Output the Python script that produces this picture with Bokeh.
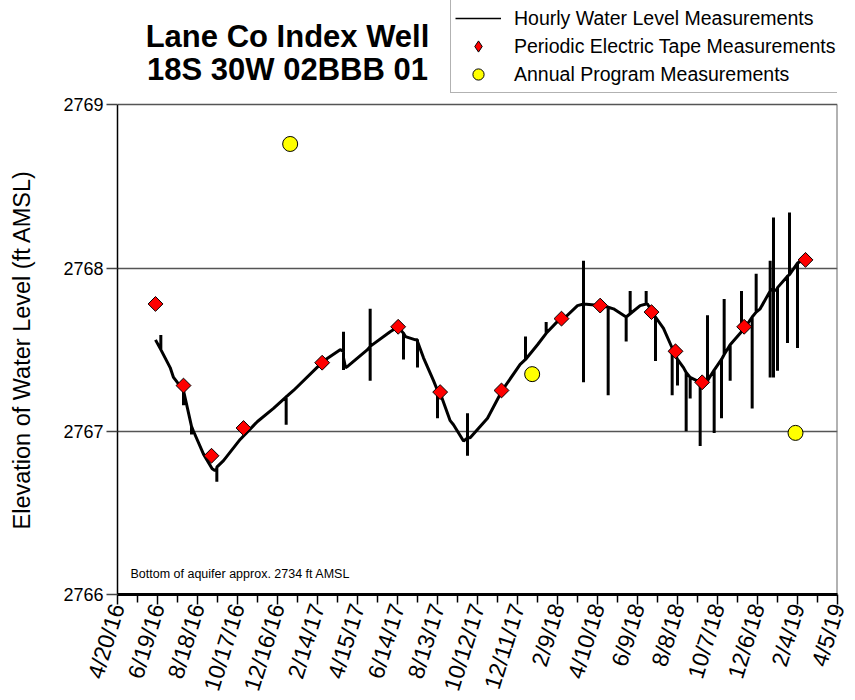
import pandas as pd
from math import pi
from bokeh.plotting import figure
from bokeh.models import (Range1d, FixedTicker, CustomJSTickFormatter, Label,
                          Legend, LegendItem)
from bokeh.embed import file_html
from bokeh.resources import INLINE

# ---------------- data ----------------
tick_dates = ["2016-04-20", "2016-06-19", "2016-08-18", "2016-10-17", "2016-12-16",
              "2017-02-14", "2017-04-15", "2017-06-14", "2017-08-13", "2017-10-12",
              "2017-12-11", "2018-02-09", "2018-04-10", "2018-06-09", "2018-08-08",
              "2018-10-07", "2018-12-06", "2019-02-04", "2019-04-05"]
y_ticks = [2766, 2767, 2768, 2769]

hourly_dates = [
    "2016-06-16", "2016-06-24", "2016-06-24", "2016-06-24", "2016-07-08", "2016-07-13",
    "2016-07-28", "2016-07-28", "2016-07-28", "2016-08-09", "2016-08-09", "2016-08-09",
    "2016-08-12", "2016-08-27", "2016-09-09", "2016-09-13", "2016-09-16", "2016-09-16",
    "2016-09-16", "2016-09-26", "2016-10-21", "2016-11-16", "2016-12-10", "2016-12-29",
    "2016-12-29", "2016-12-29", "2017-01-09", "2017-02-23", "2017-03-20", "2017-03-25",
    "2017-03-25", "2017-03-25", "2017-03-25", "2017-03-28", "2017-04-01", "2017-04-30",
    "2017-05-04", "2017-05-04", "2017-05-04", "2017-05-04", "2017-06-03", "2017-06-15",
    "2017-06-23", "2017-06-23", "2017-06-23", "2017-06-26", "2017-07-11", "2017-07-14",
    "2017-07-14", "2017-07-14", "2017-07-23", "2017-08-07", "2017-08-13", "2017-08-13",
    "2017-08-13", "2017-08-17", "2017-09-01", "2017-09-06", "2017-09-21", "2017-09-27",
    "2017-09-27", "2017-09-27", "2017-09-27", "2017-10-01", "2017-10-27", "2017-11-18",
    "2017-12-15", "2017-12-23", "2017-12-23", "2017-12-23", "2018-01-10", "2018-01-23",
    "2018-01-23", "2018-01-23", "2018-02-13", "2018-02-16", "2018-03-11", "2018-03-20",
    "2018-03-20", "2018-03-20", "2018-03-20", "2018-04-14", "2018-04-26", "2018-04-26",
    "2018-04-26", "2018-05-04", "2018-05-23", "2018-05-23", "2018-05-23", "2018-05-29",
    "2018-05-29", "2018-05-29", "2018-06-13", "2018-06-22", "2018-06-22", "2018-06-22",
    "2018-06-24", "2018-07-01", "2018-07-06", "2018-07-06", "2018-07-06", "2018-07-18",
    "2018-07-31", "2018-07-31", "2018-07-31", "2018-08-02", "2018-08-08", "2018-08-08",
    "2018-08-08", "2018-08-17", "2018-08-21", "2018-08-21", "2018-08-21", "2018-08-27",
    "2018-08-27", "2018-08-27", "2018-09-11", "2018-09-11", "2018-09-11", "2018-09-22",
    "2018-09-22", "2018-09-22", "2018-10-02", "2018-10-02", "2018-10-02", "2018-10-13",
    "2018-10-13", "2018-10-13", "2018-10-17", "2018-10-17", "2018-10-17", "2018-10-26",
    "2018-10-26", "2018-10-26", "2018-11-12", "2018-11-12", "2018-11-12", "2018-11-18",
    "2018-11-28", "2018-11-28", "2018-11-28", "2018-12-04", "2018-12-04", "2018-12-04",
    "2018-12-10", "2018-12-25", "2018-12-25", "2018-12-25", "2018-12-25", "2018-12-30",
    "2018-12-30", "2018-12-30", "2018-12-30", "2019-01-05", "2019-01-05", "2019-01-05",
    "2019-01-20", "2019-01-20", "2019-01-20", "2019-01-23", "2019-01-23", "2019-01-23",
    "2019-02-04", "2019-02-04", "2019-02-04", "2019-02-16"]
hourly_levels = [
    2767.56, 2767.50, 2767.59, 2767.50, 2767.39, 2767.33,
    2767.25, 2767.16, 2767.25, 2767.03, 2766.98, 2767.03,
    2767.00, 2766.86, 2766.77, 2766.76, 2766.77, 2766.69,
    2766.78, 2766.82, 2766.95, 2767.06, 2767.14, 2767.21,
    2767.04, 2767.21, 2767.25, 2767.43, 2767.50, 2767.49,
    2767.61, 2767.375, 2767.45, 2767.39, 2767.40, 2767.50,
    2767.52, 2767.75, 2767.31, 2767.52, 2767.61, 2767.64,
    2767.60, 2767.44, 2767.60, 2767.58, 2767.56, 2767.56,
    2767.39, 2767.55, 2767.45, 2767.31, 2767.25, 2767.08,
    2767.25, 2767.235, 2767.065, 2767.04, 2766.94, 2766.96,
    2767.11, 2766.85, 2766.96, 2766.96, 2767.08, 2767.25,
    2767.41, 2767.44, 2767.58, 2767.44, 2767.53, 2767.60,
    2767.67, 2767.60, 2767.69, 2767.68, 2767.77, 2767.78,
    2768.045, 2767.30, 2767.78, 2767.77, 2767.76, 2767.22,
    2767.76, 2767.75, 2767.70, 2767.55, 2767.70, 2767.72,
    2767.86, 2767.72, 2767.77, 2767.78, 2767.86, 2767.78,
    2767.78, 2767.73, 2767.70, 2767.43, 2767.70, 2767.63,
    2767.51, 2767.22, 2767.51, 2767.49, 2767.44, 2767.28,
    2767.44, 2767.39, 2767.36, 2767.00, 2767.36, 2767.33,
    2767.20, 2767.33, 2767.30, 2766.91, 2767.30, 2767.31,
    2767.71, 2767.31, 2767.375, 2766.99, 2767.375, 2767.44,
    2767.08, 2767.44, 2767.47, 2767.81, 2767.47, 2767.53,
    2767.31, 2767.53, 2767.61, 2767.86, 2767.61, 2767.64,
    2767.70, 2767.14, 2767.70, 2767.73, 2767.965, 2767.73,
    2767.75, 2767.86, 2768.045, 2767.33, 2767.86, 2767.87,
    2768.31, 2767.33, 2767.87, 2767.86, 2767.37, 2767.88,
    2767.95, 2767.54, 2767.95, 2767.96, 2768.34, 2767.96,
    2768.03, 2767.51, 2768.03, 2768.06]

periodic_dates = ["2016-06-16", "2016-07-28", "2016-09-08", "2016-10-26", "2017-02-21",
                  "2017-06-15", "2017-08-17", "2017-11-17", "2018-02-15", "2018-04-14",
                  "2018-06-30", "2018-08-05", "2018-09-14", "2018-11-16", "2019-02-16"]
periodic_levels = [2767.78, 2767.28, 2766.85, 2767.02, 2767.42,
                   2767.64, 2767.24, 2767.25, 2767.69, 2767.77,
                   2767.73, 2767.49, 2767.30, 2767.64, 2768.05]

annual_dates = ["2017-01-04", "2018-01-02", "2019-02-01"]
annual_levels = [2768.76, 2767.35, 2766.99]

# ---------------- figure ----------------
FONT = "Liberation Sans"
W, H = 855, 700
LEFT, RIGHT, BOTTOM = 117, 18, 102
PLOT_TOP_PX = 105                      # pixel row of the 2769 line
frame_h = H - BOTTOM                   # frame spans from canvas top to x axis
data_h = frame_h - PLOT_TOP_PX         # pixels for 2766..2769
y_top = y_ticks[0] + (y_ticks[-1] - y_ticks[0]) * frame_h / data_h


def ms(s):
    return pd.Timestamp(s).value / 1e6


major_ms = [ms(d) for d in tick_dates]
minor_ms = [(a + b) / 2 for a, b in zip(major_ms[:-1], major_ms[1:])]

p = figure(width=W, height=H, x_axis_type="datetime",
           output_backend="svg", toolbar_location=None,
           x_range=Range1d(major_ms[0], major_ms[-1]),
           y_range=Range1d(y_ticks[0], y_top),
           min_border_left=LEFT, min_border_right=RIGHT,
           min_border_top=0, min_border_bottom=BOTTOM)
p.background_fill_color = "white"
p.border_fill_color = "white"
p.outline_line_color = None

# right border of the plotting box
p.segment(x0=[major_ms[-1]], y0=[y_ticks[0]], x1=[major_ms[-1]], y1=[y_ticks[-1]],
          line_color="#666666", line_width=2)

hx = pd.to_datetime(hourly_dates)
r_line = p.line(x=hx, y=hourly_levels, line_color="black", line_width=3)
r_per = p.scatter(x=pd.to_datetime(periodic_dates), y=periodic_levels, marker="square",
                  angle=pi / 4, size=10.5, fill_color="#ff0000", line_color="black",
                  line_width=1)
r_ann = p.scatter(x=pd.to_datetime(annual_dates), y=annual_levels, marker="circle",
                  size=15, fill_color="#ffff00", line_color="black", line_width=1)

# legend keys: one undrawable (NaN) point each, so they only appear in the legend
nan = float("nan")
k_x = pd.to_datetime(tick_dates[:1])
k_line = p.line(x=k_x, y=[nan], line_color="black", line_width=1.5)
k_per = p.scatter(x=k_x, y=[nan], marker="diamond", size=14, fill_color="#ff0000",
                  line_color="black", line_width=1)
k_ann = p.scatter(x=k_x, y=[nan], marker="circle", size=14, fill_color="#ffff00",
                  line_color="black", line_width=1)

# x axis
xa = p.xaxis[0]
xa.ticker = FixedTicker(ticks=major_ms, minor_ticks=minor_ms)
xa.formatter = CustomJSTickFormatter(code="""
const d = new Date(tick);
return (d.getUTCMonth() + 1) + "/" + d.getUTCDate() + "/" + String(d.getUTCFullYear()).slice(2);
""")
xa.major_label_orientation = 1.27
xa.major_label_text_font = FONT
xa.major_label_text_font_size = "23px"
xa.major_label_text_color = "black"
xa.major_label_standoff = 0
xa.axis_line_width = 3
xa.axis_line_color = "black"
xa.major_tick_in = 0
xa.major_tick_out = 10
xa.minor_tick_in = 0
xa.minor_tick_out = 8
xa.major_tick_line_width = 1.5
xa.minor_tick_line_width = 1.5
xa.major_tick_line_color = "black"
xa.minor_tick_line_color = "black"

# y axis
ya = p.yaxis[0]
ya.bounds = (y_ticks[0], y_ticks[-1])
ya.ticker = FixedTicker(ticks=y_ticks, minor_ticks=[])
ya.major_label_text_font = FONT
ya.major_label_text_font_size = "18px"
ya.major_label_text_color = "black"
ya.major_label_standoff = 3
ya.axis_line_color = "black"
ya.axis_line_width = 1.5
ya.major_tick_in = 0
ya.major_tick_out = 11
ya.major_tick_line_width = 1.5
ya.major_tick_line_color = "#444444"
ya.minor_tick_line_color = None
# the frame reaches the top of the canvas; pad the end of the label so that it
# stays centred on the 2766..2769 box
ya.axis_label = "Elevation of Water Level (ft AMSL)" + "\u00a0" * 16
ya.axis_label_text_font = FONT
ya.axis_label_text_font_size = "23.5px"
ya.axis_label_text_font_style = "normal"
ya.axis_label_text_color = "black"
ya.axis_label_standoff = 25

p.xgrid.visible = False
p.ygrid.ticker = FixedTicker(ticks=y_ticks)
p.ygrid.grid_line_color = "#555555"
p.ygrid.grid_line_width = 1.5

# title (screen units are relative to the frame's bottom-left corner)
for txt, yy in [("Lane Co Index Well", 558), ("18S 30W 02BBB 01", 525)]:
    p.add_layout(Label(x=170, y=yy, x_units="screen", y_units="screen", text=txt,
                       text_align="center", text_baseline="middle",
                       text_font=FONT, text_font_size="31px", text_font_style="bold",
                       text_color="black"))

p.add_layout(Label(x=13, y=21, x_units="screen", y_units="screen",
                   text="Bottom of aquifer approx. 2734 ft AMSL",
                   text_align="left", text_baseline="middle",
                   text_font=FONT, text_font_size="12.5px", text_color="black"))

legend = Legend(items=[
    LegendItem(label="Hourly Water Level Measurements", renderers=[k_line]),
    LegendItem(label="Periodic Electric Tape Measurements", renderers=[k_per]),
    LegendItem(label="Annual Program Measurements", renderers=[k_ann]),
], location=(333, 501), margin=0, padding=4, spacing=0,
    glyph_width=46, glyph_height=28, label_height=28, label_standoff=13,
    label_text_font=FONT, label_text_font_size="19.5px", label_text_color="black",
    border_line_color="#666666", border_line_width=1.5,
    background_fill_color="white", background_fill_alpha=1)
p.add_layout(legend)

open("out.html", "w").write(file_html(p, INLINE))
